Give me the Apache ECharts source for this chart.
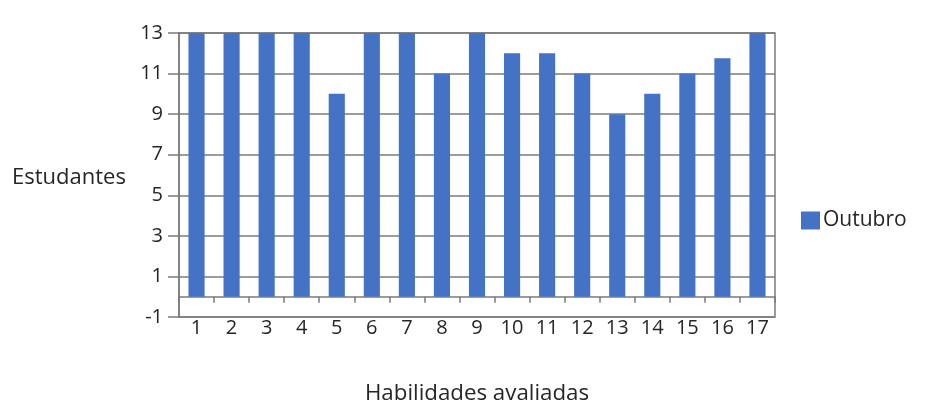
<!DOCTYPE html>
<html>
<head>
<meta charset="utf-8">
<script src="https://cdn.jsdelivr.net/npm/echarts@6/dist/echarts.min.js"></script>
<style>
  html, body { margin: 0; padding: 0; background: #ffffff; }
  #chart { width: 925px; height: 401px; }
</style>
</head>
<body>
<div id="chart"></div>
<script>
// Skills assessed (1..17) and number of students per skill in October
const categories = ['1', '2', '3', '4', '5', '6', '7', '8', '9', '10', '11', '12', '13', '14', '15', '16', '17'];
const outubro = [13, 13, 13, 13, 10, 13, 13, 11, 13, 12, 12, 11, 9, 10, 11, 11.75, 13];
const seriesName = 'Outubro';
const xTitle = 'Habilidades avaliadas';
const yTitle = 'Estudantes';

const Y_MIN = -1, Y_MAX = 13, Y_STEP = 2;

const FONT = '"Open Sans", "DejaVu Sans", sans-serif';
const GRID_GRAY = '#7b7b7b';
const TEXT = '#262626';

const GRID_TOP = 33, GRID_BOTTOM = 84, CHART_H = 401;
// distance from the plot bottom (y = -1) up to the zero baseline
const zeroOffset = (CHART_H - GRID_TOP - GRID_BOTTOM) * (0 - Y_MIN) / (Y_MAX - Y_MIN);

const chart = echarts.init(document.getElementById('chart'), null, { renderer: 'canvas' });

chart.setOption({
  animation: false,
  backgroundColor: '#ffffff',
  textStyle: { fontFamily: FONT },
  grid: {
    left: 179,
    right: 150,
    top: GRID_TOP,
    bottom: GRID_BOTTOM,
    containLabel: false,
    outerBoundsMode: 'none',
    show: true,
    borderColor: GRID_GRAY,
    borderWidth: 1.5,
    backgroundColor: 'transparent'
  },
  legend: {
    left: 796,
    top: 205,
    icon: 'rect',
    itemWidth: 19,
    itemHeight: 18,
    itemGap: 4,
    data: [seriesName],
    textStyle: { fontFamily: FONT, fontSize: 21, color: TEXT, padding: [0, 0, 0, -2] }
  },
  xAxis: [{
    // labels and title along the bottom of the plot
    type: 'category',
    data: categories,
    name: xTitle,
    nameLocation: 'middle',
    nameGap: 77,
    nameTextStyle: { fontFamily: FONT, fontSize: 22.3, color: TEXT, align: 'center', verticalAlign: 'middle' },
    axisLine: { show: false, onZero: false },
    axisTick: { show: false },
    axisLabel: { margin: 11, verticalAlign: 'middle', fontFamily: FONT, fontSize: 20, color: TEXT },
    splitLine: { show: false }
  }, {
    // baseline at zero with tick marks hanging below it
    type: 'category',
    data: categories,
    position: 'bottom',
    offset: -zeroOffset,
    axisLine: { show: true, onZero: false, lineStyle: { color: GRID_GRAY, width: 1.5 } },
    axisTick: { show: true, length: 6, lineStyle: { color: GRID_GRAY, width: 1.5 } },
    axisLabel: { show: false },
    splitLine: { show: false }
  }],
  yAxis: {
    type: 'value',
    min: Y_MIN,
    max: Y_MAX,
    interval: Y_STEP,
    name: yTitle,
    nameLocation: 'middle',
    nameRotate: 0,
    nameGap: 110,
    nameTextStyle: { fontFamily: FONT, fontSize: 22, color: TEXT, align: 'center', verticalAlign: 'top', lineHeight: 6 },
    axisLine: { show: true, lineStyle: { color: GRID_GRAY, width: 1.5 } },
    axisTick: { show: true, length: 11, lineStyle: { color: GRID_GRAY, width: 1.5 } },
    axisLabel: { margin: 16, fontFamily: FONT, fontSize: 20, color: TEXT },
    splitLine: { show: true, lineStyle: { color: GRID_GRAY, width: 1.5 } }
  },
  series: [{
    name: seriesName,
    type: 'bar',
    xAxisIndex: 0,
    data: outubro,
    barWidth: '46%',
    itemStyle: { color: '#4472c4' }
  }]
});
</script>
</body>
</html>
